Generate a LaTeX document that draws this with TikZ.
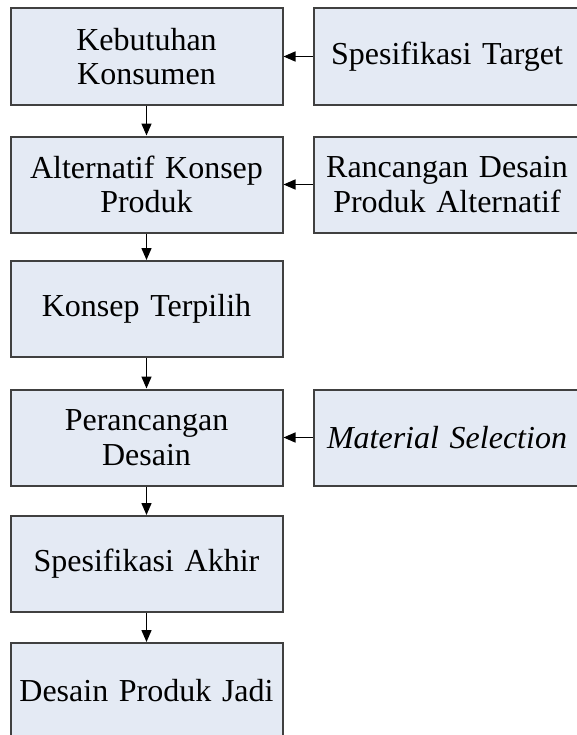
\documentclass[tikz,border=0pt]{standalone}
\usepackage{fontspec}
\setmainfont{Liberation Serif}
\usepackage{xcolor}
\usetikzlibrary{arrows.meta}

\definecolor{boxfill}{HTML}{E4EAF4}
\definecolor{boxline}{HTML}{404040}

\tikzset{
    stepbox/.style={draw=boxline, fill=boxfill, line width=1.5pt,
        minimum width=204pt, minimum height=72pt, text width=200pt,
        align=center, inner sep=0pt, font=\fontsize{24}{26}\selectfont},
    inbox/.style={stepbox, minimum width=200pt, text width=196pt},
    arr/.style={-{Triangle[length=9pt,width=7.5pt]}, line width=1.1pt, black}
}

\begin{document}
\begin{tikzpicture}[x=0.75pt, y=-0.75pt]

    % Page frame
    \clip (0,0) rectangle (577,735);
    \fill[white] (0,0) rectangle (577,735);

    % Main steps
    \node[stepbox] (b1) at (146.5,56.5) {Kebutuhan\\Konsumen};
    \node[stepbox] (b2) at (146.5,184.5) {Alternatif Konsep\\Produk};
    \node[stepbox] (b3) at (146.5,309) {Konsep Terpilih};
    \node[stepbox] (b4) at (146.5,437.5) {Perancangan\\Desain};
    \node[stepbox] (b5) at (146.5,564) {Spesifikasi Akhir};
    \node[stepbox] (b6) at (146.5,691) {Desain Produk Jadi};

    % Inputs
    \node[inbox] (r1) at (447,56.5) {Spesifikasi Target};
    \node[inbox] (r2) at (447,184.5) {Rancangan Desain\\Produk Alternatif};
    \node[inbox] (r4) at (447,437.5) {\textit{Material Selection}};

    % Arrows
    \foreach \a/\b in {b1/b2, b2/b3, b3/b4, b4/b5, b5/b6} {
        \draw[arr] (\a) -- (\b);
    }
    \foreach \a/\b in {r1/b1, r2/b2, r4/b4} {
        \draw[arr] (\a) -- (\b);
    }

\end{tikzpicture}
\end{document}
